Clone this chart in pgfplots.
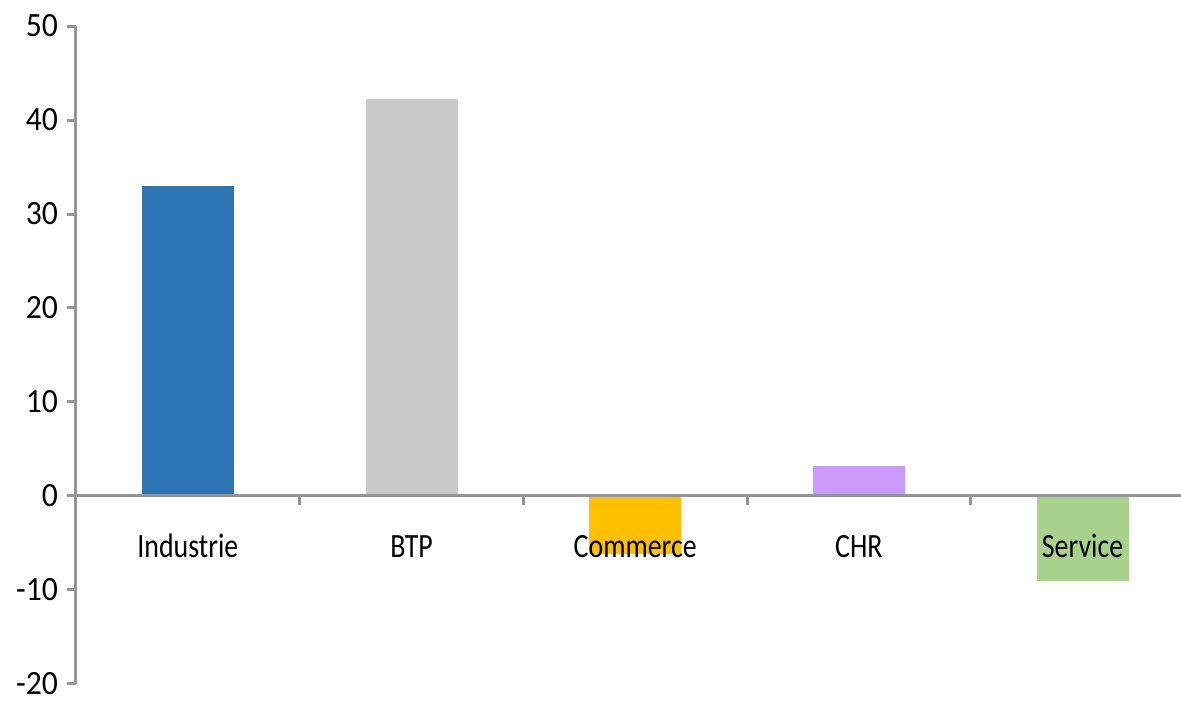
\documentclass[border=0pt]{standalone}
\usepackage{fontspec}
\setmainfont{Carlito}
\newfontfamily\catfont[FakeStretch=0.82]{Carlito}
\newfontfamily\tickfont[FakeStretch=0.93]{Carlito}
\usepackage{pgfplots}
\pgfplotsset{compat=1.18}
\definecolor{cInd}{HTML}{2E75B6}
\definecolor{cBTP}{HTML}{C9C9C9}
\definecolor{cCom}{HTML}{FFC000}
\definecolor{cCHR}{HTML}{CC99FF}
\definecolor{cSer}{HTML}{A9D18E}
\definecolor{axgray}{HTML}{959595}
\begin{document}
\begin{tikzpicture}
\useasboundingbox (-38pt,-10pt) rectangle (552.5pt,342pt);
\begin{axis}[
  at={(0,0)}, anchor=south west,
  scale only axis,
  width=552.5pt, height=329pt,
  xmin=-0.5, xmax=4.44,
  ymin=-20, ymax=50,
  ytick={-20,-10,...,50},
  axis y line*=left,
  axis x line*=middle,
  axis on top,
  every inner x axis line/.append style={draw=axgray, line width=1.5pt},
  every outer y axis line/.append style={draw=axgray, line width=1.5pt},
  every inner y axis line/.append style={draw=axgray, line width=1.5pt},
  every outer x axis line/.append style={draw=axgray, line width=1.5pt},
  every tick/.append style={draw=axgray, line width=1.5pt},
  tick align=outside,
  major tick length=4.5pt,
  xtick={0.5,1.5,2.5,3.5},
  xticklabels={},
  extra x ticks={0,1,2,3,4},
  extra x tick labels={Industrie,BTP,Commerce,CHR,Service},
  extra x tick style={major tick length=0pt, tick style={draw=none},
    xticklabel style={font=\catfont\fontsize{17}{20}\selectfont, anchor=base, yshift=-31pt}},
  yticklabel style={font=\tickfont\fontsize{17}{20}\selectfont, xshift=-1pt},
  /pgf/number format/assume math mode=true,
  ybar, bar width=46pt, bar shift=0pt,
  clip=false,
]
\addplot[fill=cInd, draw=none] coordinates {(0,33.0)};
\addplot[fill=cBTP, draw=none] coordinates {(1,42.2)};
\addplot[fill=cCom, draw=none] coordinates {(2,-6.2)};
\addplot[fill=cCHR, draw=none] coordinates {(3,3.2)};
\addplot[fill=cSer, draw=none] coordinates {(4,-9.0)};
\end{axis}
\end{tikzpicture}
\end{document}
